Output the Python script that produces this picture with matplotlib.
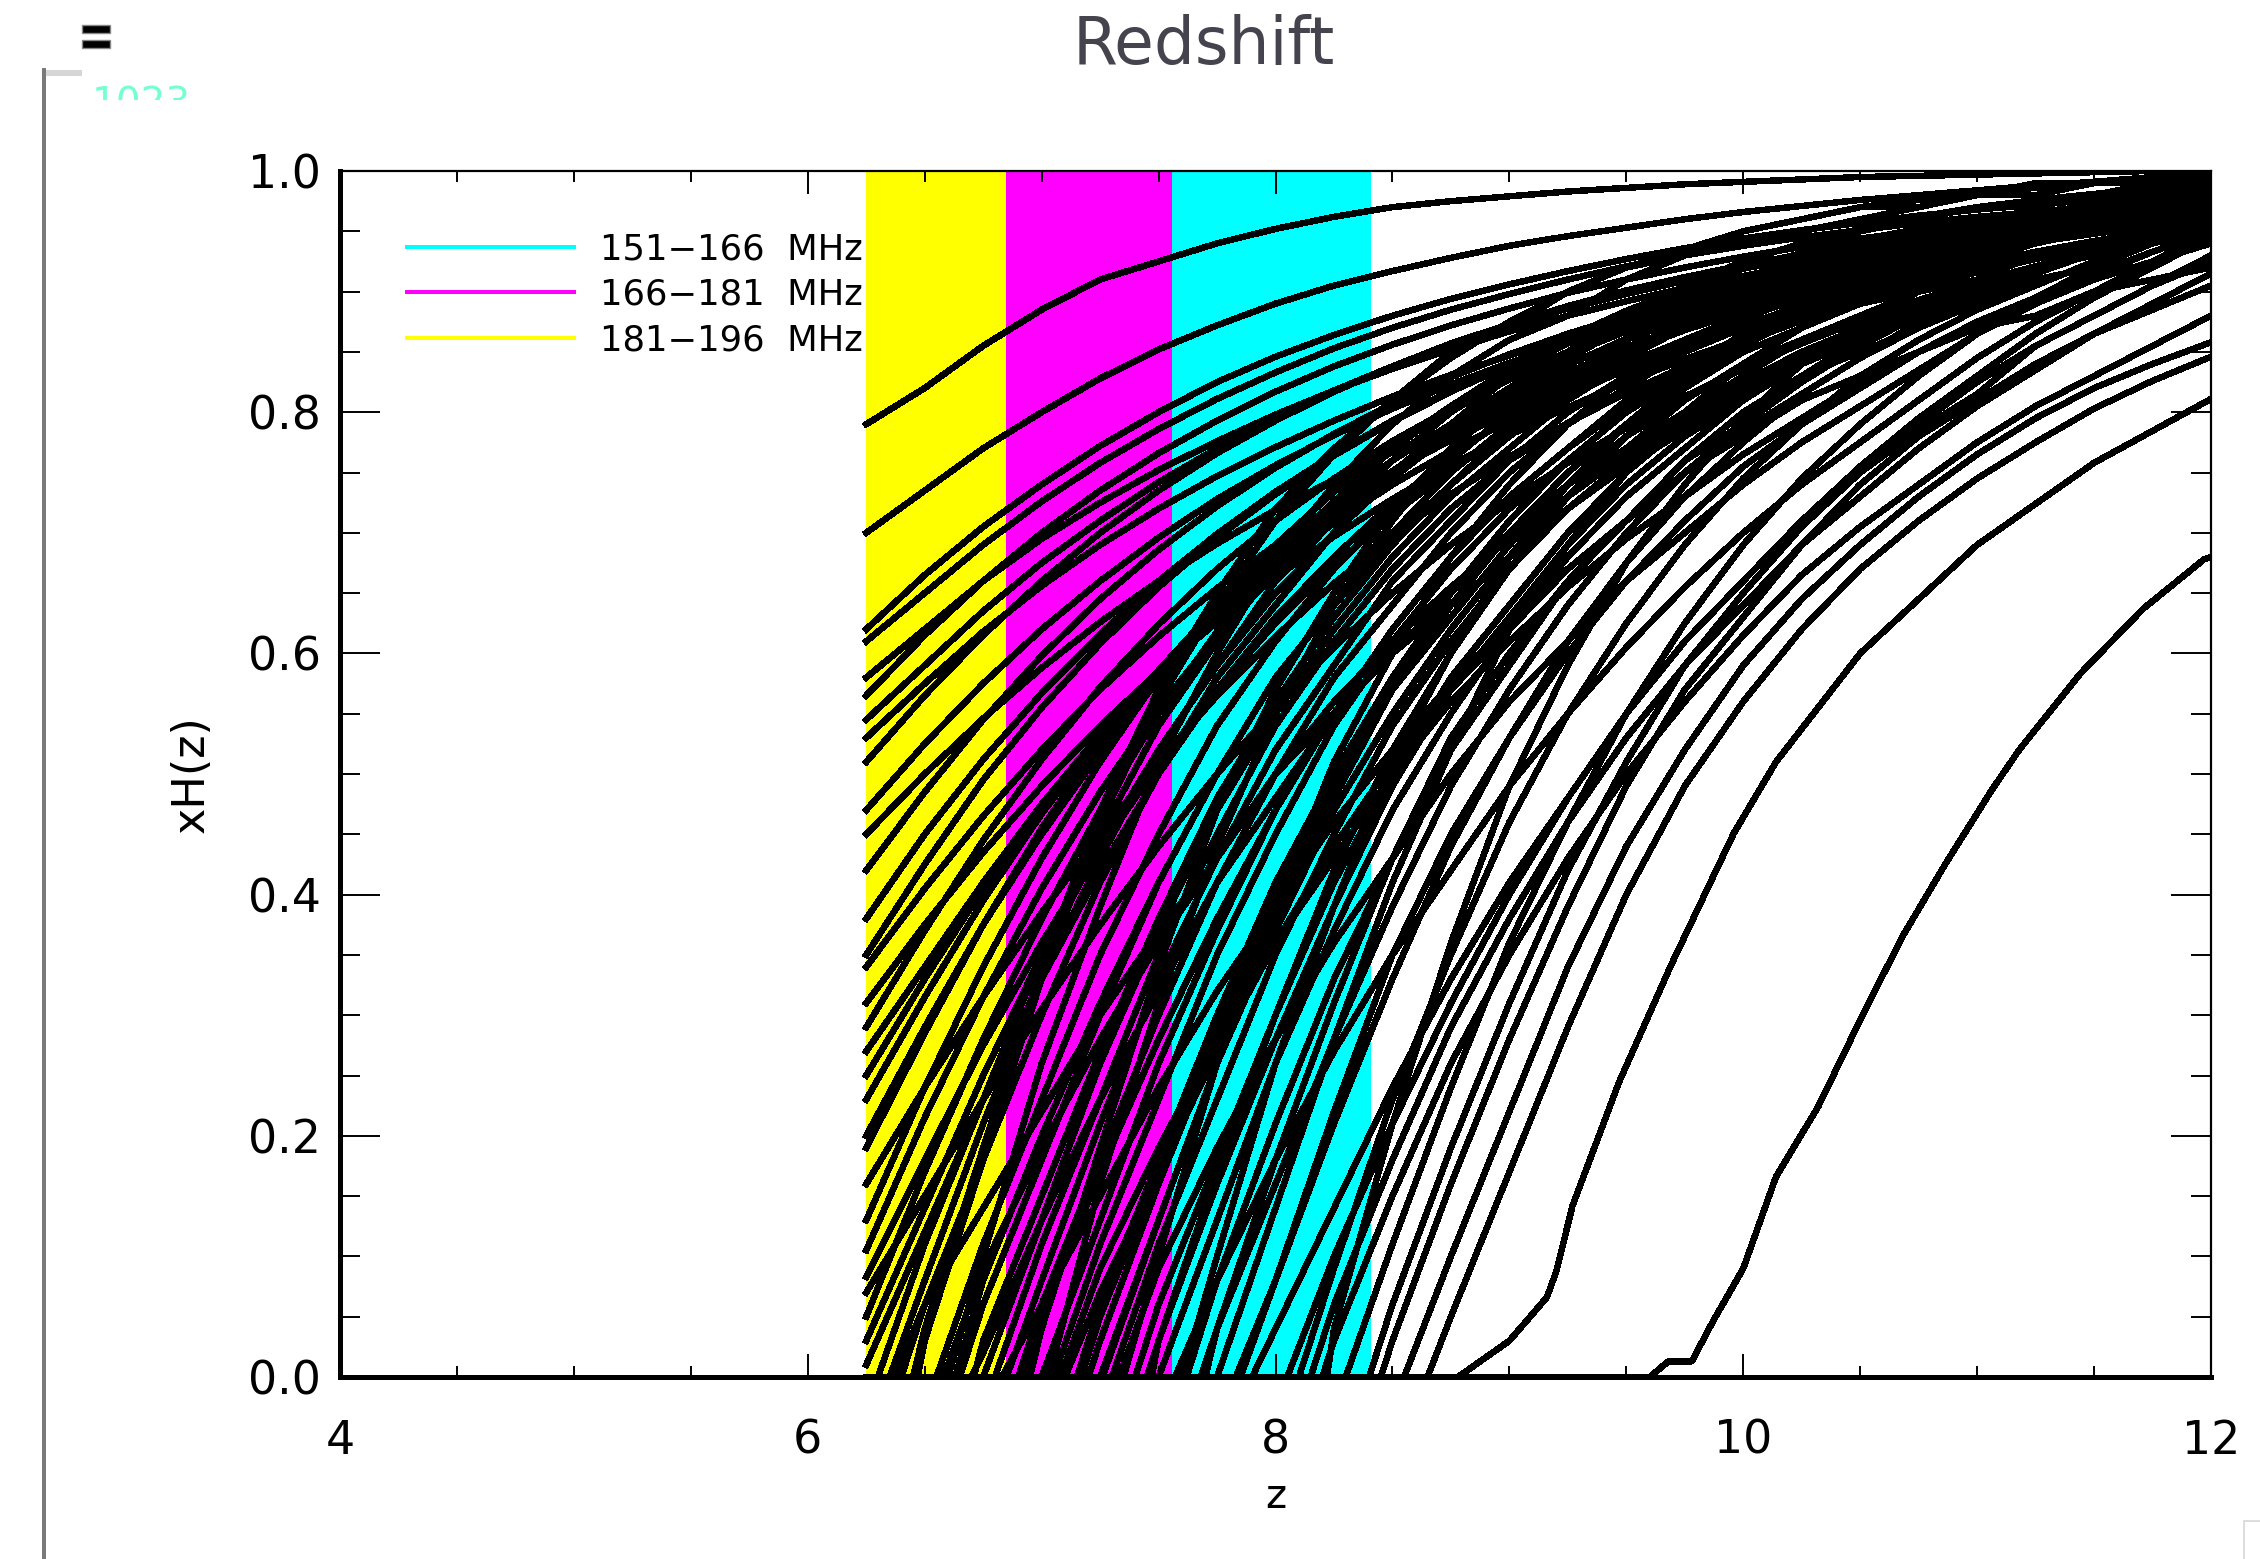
import matplotlib
matplotlib.use("Agg")
import matplotlib.pyplot as plt
import numpy as np
from matplotlib.lines import Line2D
from matplotlib.patches import Rectangle
from matplotlib.ticker import MultipleLocator, FixedLocator, FixedFormatter
from matplotlib.transforms import Bbox, TransformedBbox

# ---------------- data ----------------
z_grid = [6.25, 6.5, 6.75, 7.0, 7.25, 7.5, 7.75, 8.0, 8.25, 8.5, 8.75, 9.0,
          9.25, 9.5, 9.75, 10.0, 10.25, 10.5, 10.75, 11.0, 11.25, 11.5, 11.75, 12.0]

# observing bands (MHz) and the 21 cm rest frequency
nu21 = 1420.4
band_f_low = [151, 166, 181]
band_f_high = [166, 181, 196]
band_labels = ["151\u2212166  MHz", "166\u2212181  MHz", "181\u2212196  MHz"]
band_colors = ["#00ffff", "#ff00ff", "#ffff00"]

# neutral fraction histories xH(z) in percent, sampled on z_grid
# (a) histories that are already partly neutral at the low-z edge
xh_a = [79, 82, 85.5, 88.5, 91, 92.5, 94, 95.2, 96.2, 97, 97.5, 97.9, 98.3, 98.6, 98.9, 99.1, 99.3, 99.5, 99.6, 99.7, 99.8, 99.9, 100, 100]
xh_b = [70, 73.5, 77, 80, 82.8, 85.2, 87.2, 89, 90.5, 91.7, 92.8, 93.8, 94.6, 95.3, 96, 96.6, 97.1, 97.6, 98, 98.4, 98.8, 99.1, 99.5, 99.8]
xh_c = [62, 66.5, 70.5, 74, 77.2, 80, 82.5, 84.6, 86.4, 88, 89.4, 90.6, 91.7, 92.7, 93.6, 94.4, 95.1, 95.7, 96.3, 96.8, 97.2, 97.6, 98, 98.3]
xh_d = [61, 65, 69, 72.6, 75.8, 78.6, 81.1, 83.3, 85.3, 87, 88.5, 89.8, 91, 92.1, 93, 93.8, 94.5, 95.1, 95.7, 96.2, 96.6, 97, 97.4, 97.7]
xh_e = [56.5, 61.5, 66, 70, 73.5, 76.6, 79.3, 81.7, 83.8, 85.6, 87.2, 88.6, 89.9, 91, 92, 92.9, 93.7, 94.4, 95, 95.6, 96.1, 96.5, 96.9, 97.3]
xh_f = [54.5, 59, 63.5, 67.5, 71, 74.2, 77, 79.5, 81.8, 83.8, 85.6, 87.2, 88.6, 89.8, 90.9, 91.9, 92.8, 93.6, 94.3, 95, 95.6, 96.1, 96.6, 97]
xh_g = [51, 56.5, 61.5, 66, 70, 73.5, 76.6, 79.3, 81.7, 83.8, 85.7, 87.3, 88.8, 90.1, 91.2, 92.2, 93.1, 93.9, 94.6, 95.2, 95.8, 96.3, 96.7, 97.1]
xh_h = [42, 48.5, 54.5, 59.8, 64.5, 68.6, 72.2, 75.4, 78.2, 80.7, 82.9, 84.8, 86.5, 88, 89.3, 90.5, 91.6, 92.6, 93.5, 94.3, 95, 95.6, 96.2, 96.7]
xh_i = [35, 42.5, 49.5, 55.5, 60.8, 65.5, 69.6, 73.2, 76.4, 79.2, 81.7, 83.9, 85.8, 87.5, 89, 90.3, 91.5, 92.6, 93.6, 94.4, 95.1, 95.8, 96.4, 96.9]
xh_j = [34, 40.5, 46.5, 52, 57, 61.4, 65.4, 69, 72.2, 75.1, 77.7, 80, 82.1, 84, 85.7, 87.2, 88.6, 89.9, 91, 92, 92.9, 93.7, 94.4, 95]
xh_k = [29, 37, 44.5, 51.2, 57.2, 62.4, 67, 71, 74.5, 77.6, 80.3, 82.7, 84.8, 86.7, 88.4, 89.9, 91.2, 92.4, 93.4, 94.3, 95.1, 95.8, 96.4, 96.9]
xh_l = [23, 31.5, 39.5, 46.7, 53, 58.6, 63.5, 67.8, 71.6, 75, 78, 80.6, 82.9, 85, 86.8, 88.4, 89.9, 91.2, 92.4, 93.4, 94.3, 95.1, 95.8, 96.4]
xh_m = [19, 28.5, 37.5, 45.5, 52.5, 58.6, 63.9, 68.5, 72.5, 76, 79, 81.7, 84, 86, 87.8, 89.4, 90.8, 92, 93.1, 94.1, 94.9, 95.6, 96.3, 96.9]
xh_n = [10.5, 21.5, 31.5, 40.5, 48.5, 55.5, 61.5, 66.7, 71.2, 75.1, 78.5, 81.4, 83.9, 86.1, 88, 89.7, 91.2, 92.5, 93.6, 94.6, 95.4, 96.1, 96.7, 97.2]
xh_o = [8.3, 18, 27.5, 36, 43.8, 50.8, 57, 62.5, 67.3, 71.5, 75.2, 78.4, 81.2, 83.7, 85.9, 87.8, 89.5, 91, 92.3, 93.4, 94.4, 95.2, 95.9, 96.5]
xh_p = [1, 12, 23, 33, 42, 50, 57, 63, 68, 72.5, 76.3, 79.6, 82.5, 85, 87.2, 89.1, 90.7, 92.1, 93.3, 94.3, 95.2, 95.9, 96.5, 97]
xh_q = [27, 34, 41, 47.5, 53.3, 58.5, 63.1, 67.2, 70.8, 74, 76.8, 79.3, 81.5, 83.5, 85.3, 86.9, 88.3, 89.6, 90.8, 91.9, 92.9, 93.8, 94.6, 95.3]
xh_r = [20, 29, 37.5, 45, 51.8, 57.8, 63, 67.6, 71.6, 75.1, 78.2, 80.9, 83.3, 85.4, 87.2, 88.8, 90.2, 91.5, 92.6, 93.6, 94.5, 95.3, 96, 96.6]
xh_s = [13, 24, 34, 43, 51, 58, 64, 69, 73.4, 77.2, 80.5, 83.3, 85.7, 87.8, 89.6, 91.1, 92.4, 93.5, 94.5, 95.3, 96, 96.6, 97.1, 97.5]
xh_t = [5, 17, 28, 38, 47, 55, 61.8, 67.6, 72.6, 76.9, 80.5, 83.6, 86.2, 88.4, 90.3, 91.9, 93.2, 94.3, 95.2, 96, 96.6, 97.1, 97.5, 97.9]
xh_u1 = [58, 62, 66, 69.5, 72.5, 75.2, 77.6, 79.8, 81.8, 83.6, 85.2, 86.7, 88, 89.2, 90.3, 91.3, 92.2, 93, 93.8, 94.5, 95.1, 95.7, 96.2, 96.7]
xh_u2 = [53, 57.5, 61.8, 65.6, 69, 72, 74.7, 77.1, 79.3, 81.3, 83.1, 84.7, 86.2, 87.5, 88.7, 89.8, 90.8, 91.7, 92.6, 93.4, 94.1, 94.8, 95.4, 96]
xh_u3 = [47, 52.5, 57.5, 62, 66, 69.6, 72.8, 75.6, 78.1, 80.3, 82.3, 84.1, 85.7, 87.2, 88.5, 89.7, 90.8, 91.8, 92.7, 93.5, 94.3, 95, 95.6, 96.2]
xh_u4 = [45, 50, 54.6, 58.8, 62.6, 66, 69.1, 71.9, 74.4, 76.7, 78.8, 80.7, 82.5, 84.2, 85.8, 87.3, 88.7, 90, 91.2, 92.3, 93.3, 94.2, 95, 95.7]
xh_u5 = [38, 45, 51.2, 56.7, 61.6, 66, 69.9, 73.4, 76.5, 79.3, 81.8, 84, 86, 87.8, 89.4, 90.8, 92, 93.1, 94.1, 95, 95.8, 96.5, 97.1, 97.6]
xh_u6 = [31, 37.5, 43.5, 49, 54, 58.5, 62.6, 66.3, 69.7, 72.8, 75.6, 78.1, 80.4, 82.5, 84.4, 86.1, 87.7, 89.1, 90.4, 91.6, 92.7, 93.7, 94.6, 95.4]
xh_u7 = [25, 33, 40.5, 47.2, 53.2, 58.6, 63.4, 67.7, 71.5, 74.9, 77.9, 80.6, 83, 85.1, 87, 88.7, 90.2, 91.5, 92.7, 93.8, 94.8, 95.6, 96.3, 96.9]
xh_u8 = [16, 24, 31.5, 38.5, 45, 51, 56.5, 61.4, 65.8, 69.7, 73.2, 76.3, 79.1, 81.6, 83.8, 85.8, 87.6, 89.2, 90.6, 91.9, 93, 94, 94.9, 95.7]
xh_u9 = [7, 15, 23, 30.5, 37.5, 44, 50, 55.5, 60.5, 65, 69, 72.6, 75.8, 78.7, 81.3, 83.6, 85.7, 87.6, 89.3, 90.8, 92.1, 93.3, 94.3, 95.2]
xh_u10 = [3, 14, 25, 35, 44, 52, 59, 65, 70, 74.5, 78.3, 81.6, 84.5, 87, 89.1, 90.9, 92.4, 93.7, 94.8, 95.7, 96.4, 97, 97.5, 97.9]

# (b) histories that are fully ionized at the low-z edge; each leaves zero at its start redshift
xh_l01 = [0, 11, 23, 35, 45, 54, 61, 67, 72, 76, 80, 83, 86, 88, 90, 91, 93, 94, 95, 95, 96, 97, 97, 98]
xh_l02 = [0, 8, 21, 33, 43, 52, 59, 66, 71, 76, 79, 83, 85, 87, 89, 91, 92, 94, 95, 95, 96, 97, 97, 98]
xh_l03 = [0, 6, 18, 30, 41, 50, 58, 64, 70, 75, 79, 82, 85, 87, 89, 90, 92, 93, 94, 95, 96, 97, 97, 98]
xh_l04 = [0, 4, 19, 34, 47, 57, 65, 72, 77, 81, 85, 87, 90, 92, 93, 95, 96, 97, 97, 98, 99, 99, 99, 99]
xh_l05 = [0, 0, 11, 23, 35, 45, 54, 61, 67, 72, 76, 80, 83, 86, 88, 90, 91, 93, 94, 95, 95, 96, 97, 97]
xh_l06 = [0, 0, 10, 26, 39, 51, 60, 68, 74, 79, 83, 86, 88, 91, 93, 94, 95, 96, 97, 98, 98, 99, 99, 99]
xh_l07 = [0, 0, 6, 18, 30, 41, 50, 58, 64, 70, 75, 79, 82, 85, 87, 89, 90, 92, 93, 94, 95, 96, 97, 97]
xh_l08 = [0, 0, 2, 13, 23, 32, 41, 48, 55, 60, 65, 70, 74, 77, 80, 82.5, 85, 87, 89, 90.5, 92, 93.3, 94.5, 95.5]
xh_l09 = [0, 0, 0, 13, 26, 37, 47, 55, 62, 68, 73, 77, 81, 84, 86, 88, 90, 92, 93, 94, 95, 96, 96, 97]
xh_l10 = [0, 0, 0, 11, 23, 35, 45, 54, 61, 67, 72, 76, 80, 83, 86, 88, 90, 91, 93, 94, 95, 95, 96, 97]
xh_l11 = [0, 0, 0, 8, 21, 33, 43, 52, 59, 66, 71, 76, 79, 83, 85, 87, 89, 91, 92, 94, 95, 95, 96, 97]
xh_l12 = [0, 0, 0, 6, 18, 30, 41, 50, 58, 64, 70, 75, 79, 82, 85, 87, 89, 90, 92, 93, 94, 95, 96, 97]
xh_l13 = [0, 0, 0, 4, 19, 34, 47, 57, 65, 72, 77, 81, 85, 87, 90, 92, 93, 95, 96, 97, 97, 98, 99, 99]
xh_l14 = [0, 0, 0, 0, 13, 26, 37, 47, 55, 62, 68, 73, 77, 81, 84, 86, 88, 90, 92, 93, 94, 95, 96, 96]
xh_l15 = [0, 0, 0, 0, 11, 23, 35, 45, 54, 61, 67, 72, 76, 80, 83, 86, 88, 90, 91, 93, 94, 95, 95, 96]
xh_l16 = [0, 0, 0, 0, 7, 17, 27, 36, 44, 51, 57, 62, 67, 71, 75, 78, 81, 83, 85, 87, 88, 90, 91, 92]
xh_l17 = [0, 0, 0, 0, 6, 18, 30, 41, 50, 58, 64, 70, 75, 79, 82, 85, 87, 89, 90, 92, 93, 94, 95, 96]
xh_l18 = [0, 0, 0, 0, 3, 16, 28, 39, 49, 57, 63, 69, 74, 78, 81, 84, 86, 88, 90, 92, 93, 94, 95, 96]
xh_l19 = [0, 0, 0, 0, 0, 11, 23, 35, 45, 54, 61, 67, 72, 76, 80, 83, 86, 88, 90, 91, 93, 94, 95, 95]
xh_l20 = [0, 0, 0, 0, 0, 10, 26, 39, 51, 60, 68, 74, 79, 83, 86, 88, 91, 93, 94, 95, 96, 97, 98, 98]
xh_l21 = [0, 0, 0, 0, 0, 6, 18, 30, 41, 50, 58, 64, 70, 75, 79, 82, 85, 87, 89, 90, 92, 93, 94, 95]
xh_l22 = [0, 0, 0, 0, 0, 3, 16, 28, 39, 49, 57, 63, 69, 74, 78, 81, 84, 86, 88, 90, 92, 93, 94, 95]
xh_l23 = [0, 0, 0, 0, 0, 0, 13, 26, 37, 47, 55, 62, 68, 73, 77, 81, 84, 86, 88, 90, 92, 93, 94, 95]
xh_l24 = [0, 0, 0, 0, 0, 13, 26, 37, 47, 55, 62, 68, 73, 77, 81, 84, 86, 88, 90, 92, 93, 94, 95, 96]
xh_l25 = [0, 0, 0, 0, 0, 0, 10, 26, 39, 51, 60, 68, 74, 79, 83, 86, 88, 91, 93, 94, 95, 96, 97, 98]
xh_l26 = [0, 0, 0, 0, 0, 0, 4, 18, 31, 43, 53, 60, 66, 71, 76, 80, 83, 86, 88, 90, 92, 93, 94, 95]
xh_l27 = [0, 0, 0, 0, 0, 0, 0, 8, 22, 35, 45, 53, 60, 66, 71, 75.5, 79, 82, 85, 87, 89, 91, 92.5, 94]
xh_l28 = [0, 0, 0, 0, 0, 0, 0, 0, 10, 21, 31, 40, 48, 55, 61, 66, 71, 75, 78.5, 81.5, 85.5, 88, 90.5, 92.5]
xh_l29 = [0, 0, 0, 0, 0, 0, 0, 0, 6, 18, 29, 38, 46, 53, 59, 64, 69, 73, 77, 80.5, 83.5, 86.5, 89, 91.5]
xh_l30 = [0, 0, 0, 0, 0, 0, 0, 0, 3, 15, 26, 35, 43, 50, 56, 61.5, 66.5, 70.5, 74, 77.5, 80.5, 83, 85.5, 88]
xh_l31 = [0, 0, 0, 0, 0, 0, 8, 21, 33, 43, 52, 59, 66, 71, 76, 79, 83, 85, 87, 89, 91, 92, 94, 95]
xh_l32 = [0, 0, 0, 0, 0, 0, 0, 14, 28, 41, 52, 62, 69, 75, 80, 84, 87, 89.5, 91.5, 93, 94.5, 95.5, 96.5, 97.5]
xh_l33 = [0, 0, 0, 0, 0, 0, 0, 0, 0, 3, 16, 28, 39, 49, 57, 63, 69, 74, 78, 81, 84, 86.5, 88.5, 90.5]
xh_l34 = [0, 0, 0, 0, 0, 0, 0, 0, 0, 0, 10, 22, 34, 44, 52, 59, 64.5, 69, 73, 76.5, 79.5, 82, 84, 85.8]
xh_l35 = [0, 0, 0, 0, 0, 0, 0, 0, 0, 0, 5, 17, 29, 40, 49, 56, 62, 67, 71, 74.5, 77.5, 80.3, 82.6, 84.6]
xh_l38 = [0, 0, 0, 0, 0, 0, 0, 0, 0, 6, 19, 31, 42, 51, 59, 65, 70.5, 75, 79, 82.5, 85.5, 88, 90.5, 93]
xh_m01 = [0, 6, 14, 22, 30, 37, 43, 50, 55, 60, 64, 68, 72, 75.5, 78.5, 81.5, 84, 86.5, 88.5, 90.5, 92, 93.5, 94.5, 95.5]
xh_m02 = [0, 0, 9, 19, 28, 36, 43, 50, 56, 61, 65.5, 69.5, 73, 76.5, 79.5, 82, 84.5, 86.5, 88.5, 90.5, 92, 93.5, 94.5, 95.5]
xh_m03 = [0, 0, 8, 20, 31, 41, 50, 58, 64, 69.5, 74, 78, 81.5, 84.5, 87, 89, 91, 92.5, 94, 95, 96, 96.8, 97.4, 98]
xh_m04 = [0, 0, 0, 6, 15, 24, 32, 39, 46, 52, 57.5, 62.5, 67, 71, 75, 78.5, 81.5, 84.5, 87, 89.5, 91.5, 93.2, 94.7, 96]
xh_m05 = [0, 0, 0, 5, 17, 28, 38, 47, 55, 62, 68, 73, 77, 80.5, 83.5, 86, 88.5, 90.5, 92, 93.5, 94.5, 95.5, 96.3, 97]
xh_m06 = [0, 0, 0, 0, 9, 19, 28, 36, 43, 50, 56, 61, 65.5, 69.5, 73, 76.5, 79.5, 82.5, 85, 87.5, 89.5, 91.5, 93.3, 95]
xh_m07 = [0, 0, 0, 0, 5, 17, 29, 40, 50, 58, 65, 71, 76, 80, 83.5, 86.5, 89, 91, 92.5, 94, 95, 96, 96.7, 97.3]
xh_m08 = [0, 0, 0, 0, 0, 9, 19, 28, 36, 43, 50, 56, 61, 66, 70, 74, 77.5, 80.5, 83.5, 86.5, 89, 91.3, 93.3, 95]
xh_m09 = [0, 0, 0, 0, 0, 3, 17, 30, 42, 52, 60, 67, 73, 78, 82, 85.5, 88.5, 90.5, 92.5, 94, 95, 96, 96.8, 97.5]
xh_m10 = [0, 0, 0, 0, 0, 0, 8, 18, 27, 35, 42, 49, 55, 60.5, 65.5, 70, 74, 77.5, 81, 84.5, 87.5, 90, 92.5, 95]
xh_m11 = [0, 0, 0, 0, 0, 0, 4, 16, 28, 39, 49, 57, 64, 70, 75, 79, 82.5, 85.5, 88, 90, 92, 93.5, 94.8, 95.8]
xh_m12 = [0, 0, 0, 0, 0, 0, 0, 8, 21, 33, 44, 53, 61, 67.5, 73, 77.5, 81.5, 84.5, 87.5, 90, 92, 93.5, 95, 96]
xh_m13 = [0, 0, 0, 0, 0, 0, 0, 4, 14, 24, 33, 41, 48, 55, 61, 66, 71, 75.5, 79.5, 83, 86.5, 89.5, 92, 94.5]
xh_m14 = [0, 0, 0, 0, 0, 0, 0, 0, 9, 23, 35, 46, 55, 62.5, 69, 74.5, 79, 83, 86, 88.5, 90.5, 92.5, 94, 95]
xh_m15 = [0, 0, 0, 0, 0, 0, 0, 0, 4, 21, 36, 49, 59, 67.5, 74, 79.5, 84, 87.5, 90, 92.5, 94, 95.5, 96.5, 97.5]
xh_m16 = [0, 0, 0, 0, 0, 0, 0, 0, 0, 11, 24, 36, 46, 55, 62.5, 69, 74.5, 79, 83, 86.5, 89.5, 92, 94, 95.5]
xh_m17 = [0, 3, 18, 33, 46, 56, 64, 71, 76.5, 81, 84.5, 87.5, 90, 92, 93.5, 95, 96, 97, 97.6, 98.2, 98.6, 99, 99.3, 99.5]
xh_m18 = [0, 0, 3, 15, 27, 38, 48, 56, 63, 69, 74, 78.5, 82, 85, 87.5, 89.5, 91.5, 93, 94.2, 95.2, 96, 96.7, 97.3, 97.8]
xh_m19 = [0, 0, 0, 0, 16, 31, 44, 55, 64, 71, 77, 81.5, 85, 88, 90.5, 92.5, 94, 95.2, 96.2, 97, 97.6, 98.1, 98.5, 98.8]
xh_m20 = [0, 0, 0, 0, 0, 13, 26, 38, 48, 57, 64, 70, 75, 79, 82.5, 85.5, 88, 90, 91.8, 93.3, 94.5, 95.5, 96.3, 97]

# start redshift (xH leaves 0) for each history in group (b), same order as below
start_z = [6.30, 6.35, 6.40, 6.45, 6.55, 6.60, 6.65, 6.70, 6.75, 6.80, 6.85, 6.90,
           6.95, 7.00, 7.05, 7.10, 7.15, 7.20, 7.30, 7.35, 7.40, 7.45, 7.50, 7.25,
           7.60, 7.70, 7.85, 8.05, 8.15, 8.20, 7.57, 7.75, 8.45, 8.55, 8.65, 8.40,
           6.37, 6.58, 6.63, 6.83, 6.92, 7.08, 7.17, 7.33, 7.47, 7.62, 7.68, 7.83,
           7.90, 8.10, 8.22, 8.30, 6.47, 6.71, 7.03, 7.26]

# the two late histories, read on their own z samples
late1_z = [6.25, 8.78, 9.0, 9.16, 9.2, 9.27, 9.47, 9.69, 9.96, 10.14, 10.5, 11.0, 11.5, 12.0]
late1_xh = [0, 0, 3, 6.6, 8.7, 14.2, 24.5, 34.1, 45.1, 51, 60, 69, 75.8, 81.1]
late2_z = [6.25, 9.6, 9.68, 9.78, 9.87, 10.0, 10.14, 10.32, 10.5, 10.68, 10.86, 11.06, 11.18, 11.44, 11.71, 11.97, 12.0]
late2_xh = [0, 0, 1.3, 1.3, 4.6, 9, 16.6, 22.4, 29.6, 36.5, 42.4, 48.6, 52, 58.3, 63.7, 67.8, 68]

early_histories = [xh_a, xh_b, xh_c, xh_d, xh_e, xh_f, xh_g, xh_h, xh_i, xh_j, xh_k,
                   xh_l, xh_m, xh_n, xh_o, xh_p, xh_q, xh_r, xh_s, xh_t,
                   xh_u1, xh_u2, xh_u3, xh_u4, xh_u5, xh_u6, xh_u7, xh_u8, xh_u9, xh_u10]
late_start_histories = [xh_l01, xh_l02, xh_l03, xh_l04, xh_l05, xh_l06, xh_l07, xh_l08,
                        xh_l09, xh_l10, xh_l11, xh_l12, xh_l13, xh_l14, xh_l15, xh_l16,
                        xh_l17, xh_l18, xh_l19, xh_l20, xh_l21, xh_l22, xh_l23, xh_l24,
                        xh_l25, xh_l26, xh_l27, xh_l28, xh_l29, xh_l30, xh_l31, xh_l32,
                        xh_l33, xh_l34, xh_l35, xh_l38,
                        xh_m01, xh_m02, xh_m03, xh_m04, xh_m05, xh_m06, xh_m07, xh_m08,
                        xh_m09, xh_m10, xh_m11, xh_m12, xh_m13, xh_m14, xh_m15, xh_m16,
                        xh_m17, xh_m18, xh_m19, xh_m20]
sampled_histories = [(late1_z, late1_xh), (late2_z, late2_xh)]

x_ticks = [4, 6, 8, 10, 12]
x_tick_labels = ["4", "6", "8", "10", "12"]
y_ticks = [0.0, 0.2, 0.4, 0.6, 0.8, 1.0]
y_tick_labels = ["0.0", "0.2", "0.4", "0.6", "0.8", "1.0"]

assert len(start_z) == len(late_start_histories)
for h in early_histories + late_start_histories:
    assert len(h) == len(z_grid), len(h)

# ---------------- figure ----------------
W, H = 2260, 1559
fig = plt.figure(figsize=(W / 100, H / 100), dpi=100)
fig.patch.set_facecolor("white")

ax = fig.add_axes([340 / W, 1 - 1377 / H, (2211 - 340) / W, (1377 - 171) / H])
ax.set_xlim(4, 12)
ax.set_ylim(0, 1)

# bands
for flo, fhi, col in zip(band_f_low, band_f_high, band_colors):
    ax.axvspan(nu21 / fhi - 1, nu21 / flo - 1, color=col, lw=0, zorder=1)

# reionization histories
line_kw = dict(color="black", lw=3.9, antialiased=False, zorder=3, solid_joinstyle="round")
zg = np.asarray(z_grid)
for hist in early_histories:
    ax.plot(zg, np.asarray(hist, dtype=float) / 100.0, **line_kw)
for zs, hist in zip(start_z, late_start_histories):
    vals = np.asarray(hist, dtype=float)
    keep = zg > zs
    zz = np.concatenate([[z_grid[0], zs], zg[keep]])
    yy = np.concatenate([[0.0, 0.0], vals[keep]]) / 100.0
    ax.plot(zz, yy, **line_kw)
for zz, hh in sampled_histories:
    ax.plot(zz, np.asarray(hh, dtype=float) / 100.0, **line_kw)

# legend
handles = [Line2D([], [], color=c, lw=2.9) for c in band_colors]
leg = ax.legend(handles, band_labels, loc="upper left", bbox_to_anchor=(0.036, 0.949),
                frameon=False, fontsize=25.5, handlelength=4.7, handletextpad=0.75,
                labelspacing=0.32, borderpad=0, borderaxespad=0)
leg.set_zorder(5)

# axes styling
for side, lw in (("left", 3.6), ("bottom", 3.6), ("top", 1.6), ("right", 1.6)):
    ax.spines[side].set_linewidth(lw)
    ax.spines[side].set_zorder(6)

ax.xaxis.set_major_locator(FixedLocator(x_ticks))
ax.xaxis.set_major_formatter(FixedFormatter(x_tick_labels))
ax.xaxis.set_minor_locator(MultipleLocator(0.5))
ax.yaxis.set_major_locator(FixedLocator(y_ticks))
ax.yaxis.set_major_formatter(FixedFormatter(y_tick_labels))
ax.yaxis.set_minor_locator(MultipleLocator(0.05))

ax.tick_params(axis="both", which="both", direction="in", top=True, right=True, width=1.4)
ax.tick_params(axis="x", which="major", length=16.5, pad=30, labelsize=33)
ax.tick_params(axis="x", which="minor", length=8)
ax.tick_params(axis="y", which="major", length=29, pad=14, labelsize=33)
ax.tick_params(axis="y", which="minor", length=14.5)

ax.set_xlabel("z", fontsize=29)
ax.xaxis.set_label_coords(0.5, -0.083)
ax.set_ylabel("xH(z)", fontsize=32)
ax.yaxis.set_label_coords(-0.068, 0.5)

# title (page header)
fig.text(1204 / W, 1 - 64 / H, "Redshift", ha="center", va="baseline",
         fontsize=46.5, color="#45444e")

# page decorations around the plot
fig.add_artist(Rectangle((82 / W, 1 - 33 / H), 28 / W, 8 / H, transform=fig.transFigure,
                         facecolor="black", edgecolor="#888888", lw=1))
fig.add_artist(Rectangle((82 / W, 1 - 48 / H), 28 / W, 8 / H, transform=fig.transFigure,
                         facecolor="black", edgecolor="#888888", lw=1))
fig.add_artist(Rectangle((42 / W, 0), 4 / W, 1 - 68 / H, transform=fig.transFigure,
                         facecolor="#7c7a78", edgecolor="none"))
fig.add_artist(Rectangle((46 / W, 1 - 76 / H), 36 / W, 6 / H, transform=fig.transFigure,
                         facecolor="#d6d6d6", edgecolor="none"))
fig.add_artist(Rectangle((2243 / W, 0), 2 / W, 39 / H, transform=fig.transFigure,
                         facecolor="#dddddd", edgecolor="none"))
fig.add_artist(Rectangle((2243 / W, 37 / H), 17 / W, 2 / H, transform=fig.transFigure,
                         facecolor="#dddddd", edgecolor="none"))
cut = fig.text(92 / W, 1 - 86 / H, "1023", ha="left", va="top", fontsize=28,
               color="#72ffd2")
cut.set_clip_on(True)
cut.set_clip_box(TransformedBbox(Bbox.from_extents(0, 1 - 100 / H, 0.2, 1 - 80 / H),
                                 fig.transFigure))

fig.savefig("out.png", dpi=100, facecolor="white")
